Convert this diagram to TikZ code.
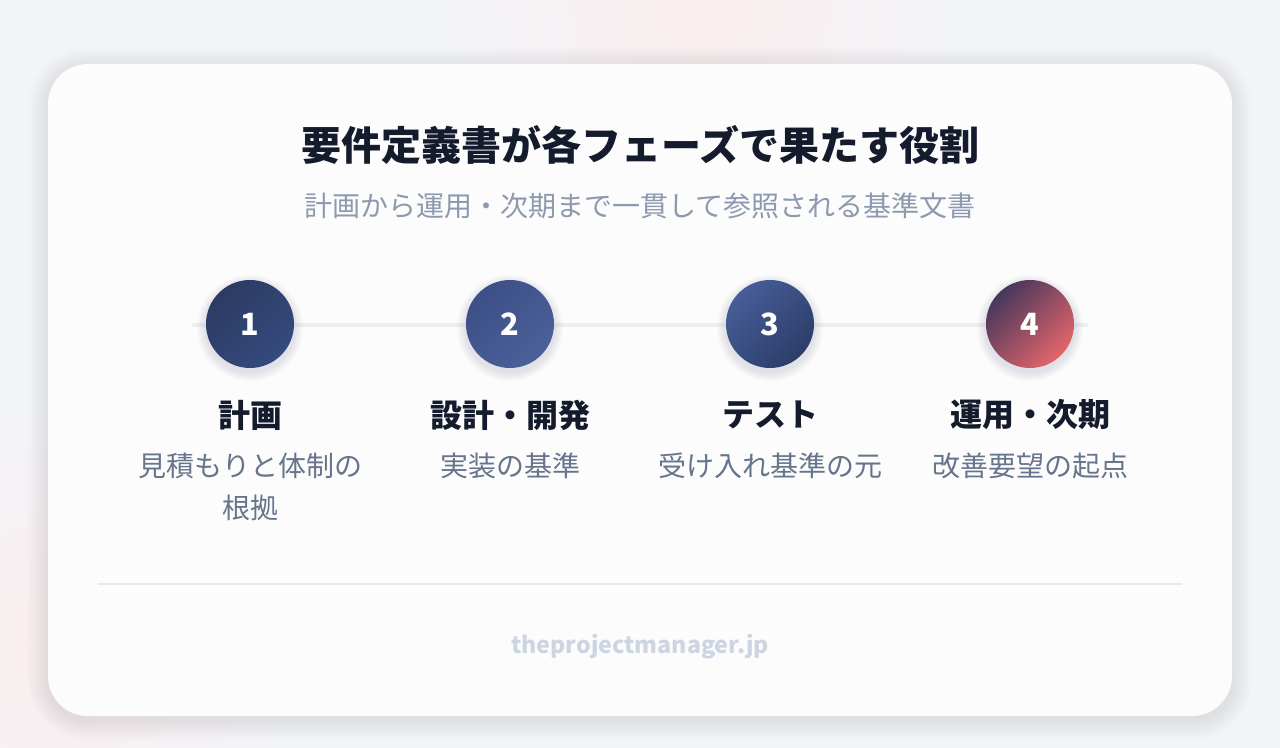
\documentclass[tikz,border=0pt]{standalone}
\usepackage{fontspec}
\setmainfont{Noto Sans CJK JP}
\usetikzlibrary{backgrounds,calc}

\definecolor{pagebg}{HTML}{F3F4F8}
\definecolor{pinkbg}{HTML}{FAEDEE}
\definecolor{titleink}{HTML}{141B2C}
\definecolor{subink}{HTML}{8C99AE}
\definecolor{descink}{HTML}{66758C}
\definecolor{railgray}{HTML}{EEEEF0}
\definecolor{rulegray}{HTML}{E8E9EE}
\definecolor{footink}{HTML}{CDD5E3}
\definecolor{shadowink}{HTML}{4A5068}
\definecolor{navyA}{HTML}{2B3B63}
\definecolor{navyB}{HTML}{354A7D}
\definecolor{blueA}{HTML}{3C5086}
\definecolor{blueB}{HTML}{4B609A}
\definecolor{blueC}{HTML}{465D98}
\definecolor{blueD}{HTML}{2C3D68}
\definecolor{plumA}{HTML}{46375C}
\definecolor{coralB}{HTML}{E4656A}

\begin{document}
\begin{tikzpicture}[
    x=0.75pt, y=-0.75pt,
    card/.style={fill=white, fill opacity=0.92, rounded corners=30pt},
    stepnum/.style={circle, minimum size=66pt, inner sep=0pt, text=white,
        font=\bfseries\fontsize{23pt}{27pt}\selectfont},
    stephead/.style={text=titleink, font=\bfseries\fontsize{24pt}{28pt}\selectfont, inner sep=0pt},
    stepdesc/.style={text=descink, font=\fontsize{21pt}{31.5pt}\selectfont, align=center, inner sep=0pt}
]
\useasboundingbox (0,0) rectangle (1280,748);
% page background
\begin{scope}
\clip (0,0) rectangle (1280,748);
\fill[pagebg] (0,0) rectangle (1280,748);
\shade[inner color=pinkbg, outer color=pagebg] (700,0) circle[radius=260];
\shade[inner color=pinkbg, outer color=pagebg] (60,640) circle[radius=240];
\end{scope}

% soft card shadow
\foreach \k in {1,...,10}
  \fill[shadowink, opacity=0.012, rounded corners=30pt+\k*1.5pt]
    (48-2*\k,64-2*\k+4) rectangle (1232+2*\k,716+2*\k+4);
% card
\path[card] (48,64) rectangle (1232,716);

% headings
\node[text=titleink, font=\bfseries\fontsize{30pt}{36pt}\selectfont] (title) at (640,145) {要件定義書が各フェーズで果たす役割};
\node[text=subink, font=\fontsize{21pt}{25pt}\selectfont] (subtitle) at (640,206) {計画から運用・次期まで一貫して参照される基準文書};

% rail behind the steps
\coordinate (railL) at (192,325);
\coordinate (railR) at (1088,325);
\draw[railgray, line width=3pt] (railL) -- (railR);

% step shadows
\foreach \cx in {250,510,770,1030}
  \foreach \k in {1,...,7}
    \fill[shadowink, opacity=0.02] (\cx,328) circle[radius=44+1.3*\k];

% steps
\node[stepnum, top color=navyA, bottom color=navyB, shading angle=45] (s1) at (250,324) {1};
\node[stepnum, top color=blueA, bottom color=blueB, shading angle=45] (s2) at (510,324) {2};
\node[stepnum, top color=blueC, bottom color=blueD, shading angle=45] (s3) at (770,324) {3};
\node[stepnum, top color=plumA, bottom color=coralB, shading angle=45] (s4) at (1030,324) {4};

\node[stephead] (h1) at (250,415) {計画};
\node[stephead] (h2) at (510,415) {設計・開発};
\node[stephead] (h3) at (770,415) {テスト};
\node[stephead] (h4) at (1030,415) {運用・次期};

\node[stepdesc] (d1) at (250,487) {見積もりと体制の\\根拠};
\node[stepdesc] (d2) at (510,466) {実装の基準};
\node[stepdesc] (d3) at (770,466) {受け入れ基準の元};
\node[stepdesc] (d4) at (1030,466) {改善要望の起点};

% footer
\coordinate (ruleL) at (98,584);
\coordinate (ruleR) at (1182,584);
\draw[rulegray, line width=1.5pt] (ruleL) -- (ruleR);
\node[text=footink, font=\bfseries\fontsize{17.4pt}{21pt}\selectfont] (site) at (640,647) {theprojectmanager.jp};
\end{tikzpicture}
\end{document}
